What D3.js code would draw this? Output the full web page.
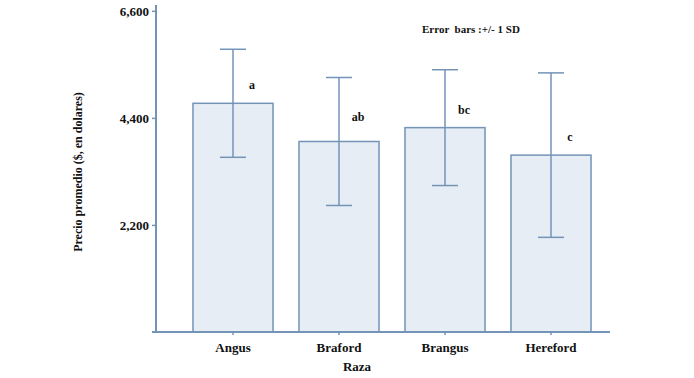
<!DOCTYPE html>
<html>
<head>
<meta charset="utf-8">
<script src="https://cdn.jsdelivr.net/npm/d3@7"></script>
<style>
  body { margin: 0; background: #fff; }
  svg text { font-family: "Liberation Serif", "Times New Roman", serif; font-weight: bold; fill: #111; }
</style>
</head>
<body>
<svg id="chart"></svg>
<script>
const breeds = ['Angus', 'Braford', 'Brangus', 'Hereford'];
const means = [4700, 3915, 4200, 3635];
const sds = [1110, 1315, 1190, 1690];
const groups = ['a', 'ab', 'bc', 'c'];
const yTicks = [2200, 4400, 6600];

const width = 694;
const height = 378;
const axisColor = '#7393b7';

const svg = d3.select('#chart')
  .attr('width', width)
  .attr('height', height);

const yAxisX = 156;
const x = d3.scaleBand()
  .domain(breeds)
  .range([180, 604])
  .paddingInner(0.245)
  .paddingOuter(0.1225);
const y = d3.scaleLinear()
  .domain([0, 6720])
  .range([332, 5]);

// Bars
svg.selectAll('.bar')
  .data(breeds)
  .enter().append('rect')
    .attr('class', 'bar')
    .attr('x', d => x(d))
    .attr('y', (d, i) => y(means[i]))
    .attr('width', x.bandwidth())
    .attr('height', (d, i) => y(0) - y(means[i]))
    .attr('fill', '#e7edf5')
    .attr('stroke', axisColor)
    .attr('stroke-width', 1.5);

// Error bars
const cap = 13;
const eb = svg.selectAll('.err')
  .data(breeds)
  .enter().append('g')
    .attr('class', 'err')
    .attr('stroke', axisColor)
    .attr('stroke-width', 1.5);
eb.append('line')
  .attr('x1', d => x(d) + x.bandwidth() / 2)
  .attr('x2', d => x(d) + x.bandwidth() / 2)
  .attr('y1', (d, i) => y(means[i] + sds[i]))
  .attr('y2', (d, i) => y(means[i] - sds[i]));
eb.append('line')
  .attr('x1', d => x(d) + x.bandwidth() / 2 - cap)
  .attr('x2', d => x(d) + x.bandwidth() / 2 + cap)
  .attr('y1', (d, i) => y(means[i] + sds[i]))
  .attr('y2', (d, i) => y(means[i] + sds[i]));
eb.append('line')
  .attr('x1', d => x(d) + x.bandwidth() / 2 - cap)
  .attr('x2', d => x(d) + x.bandwidth() / 2 + cap)
  .attr('y1', (d, i) => y(means[i] - sds[i]))
  .attr('y2', (d, i) => y(means[i] - sds[i]));

// Group letters
svg.selectAll('.grp')
  .data(breeds)
  .enter().append('text')
    .attr('class', 'grp')
    .attr('text-anchor', 'middle')
    .attr('font-size', 12)
    .attr('x', d => x(d) + x.bandwidth() / 2 + 19)
    .attr('y', (d, i) => y(means[i]) - (groups[i] === 'ab' ? 20 : 14))
    .text((d, i) => groups[i]);

// Y axis
const yAxis = d3.axisLeft(y)
  .tickValues(yTicks)
  .tickSize(4)
  .tickPadding(3)
  .tickFormat(d3.format(','));
const gy = svg.append('g')
  .attr('transform', `translate(${yAxisX}, 0)`)
  .call(yAxis);
gy.select('.domain').remove();
gy.selectAll('line').attr('stroke', axisColor).attr('stroke-width', 1.5);
gy.selectAll('text').attr('font-size', 13).attr('font-family', '"Liberation Serif", serif');
svg.append('line')
  .attr('x1', yAxisX).attr('x2', yAxisX)
  .attr('y1', y.range()[1]).attr('y2', y(0))
  .attr('stroke', axisColor).attr('stroke-width', 2);

// X axis
const xAxis = d3.axisBottom(x)
  .tickSize(3)
  .tickPadding(8)
  .tickSizeOuter(0);
const gx = svg.append('g')
  .attr('transform', `translate(0, ${y(0)})`)
  .call(xAxis);
gx.select('.domain').remove();
gx.selectAll('line').attr('stroke', axisColor).attr('stroke-width', 1.5);
gx.selectAll('text').attr('font-size', 13).attr('font-family', '"Liberation Serif", serif');
svg.append('line')
  .attr('x1', yAxisX - 4).attr('x2', 610)
  .attr('y1', y(0)).attr('y2', y(0))
  .attr('stroke', axisColor).attr('stroke-width', 2);

// Axis titles
svg.append('text')
  .attr('text-anchor', 'middle')
  .attr('font-size', 13)
  .attr('x', 357)
  .attr('y', 371)
  .text('Raza');
svg.append('text')
  .attr('text-anchor', 'middle')
  .attr('font-size', 12)
  .attr('transform', 'translate(82, 172) rotate(-90)')
  .text('Precio promedio ($, en dolares)');

// Note
svg.append('text')
  .attr('font-size', 11)
  .attr('x', 422)
  .attr('y', 33)
  .attr('xml:space', 'preserve')
  .text('Error  bars :+/- 1 SD');
</script>
</body>
</html>
